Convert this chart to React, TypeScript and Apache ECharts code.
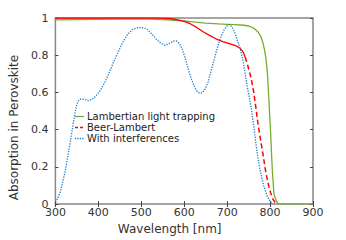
import React, { useEffect, useRef } from "react";
import * as echarts from "echarts";

const xTicks = [300, 400, 500, 600, 700, 800, 900];
const legendNames = ["Lambertian light trapping", "Beer-Lambert", "With interferences"];
const lambertian: [number, number][] = [
  [300, 0.99], [350, 0.992], [400, 0.993], [450, 0.994], [500, 0.995], [550, 0.992],
  [580, 0.988], [600, 0.984], [620, 0.979], [650, 0.972], [680, 0.968], [700, 0.966],
  [720, 0.964], [740, 0.961], [750, 0.957], [758, 0.95], [765, 0.94], [772, 0.925],
  [778, 0.903], [783, 0.87], [787, 0.83], [790, 0.79], [794, 0.7], [797, 0.57],
  [801, 0.4], [805, 0.19], [809, 0.055], [814, 0.02], [819, 0], [900, 0],
];
const beerSolid: [number, number][] = [
  [300, 1], [400, 1], [500, 1], [550, 0.999], [570, 0.996], [585, 0.99], [600, 0.982],
  [615, 0.968], [630, 0.948], [645, 0.925], [660, 0.905], [675, 0.887], [690, 0.873],
  [705, 0.862], [720, 0.851], [730, 0.838], [737, 0.818], [742, 0.79],
];
const beerDashed: [number, number][] = [
  [742, 0.79], [748, 0.745], [756, 0.676], [762, 0.6], [767, 0.518], [772, 0.43],
  [778, 0.343], [784, 0.26], [789, 0.186], [795, 0.115], [801, 0.063], [806, 0.03],
  [811, 0.01], [815, 0],
];
const interference: [number, number][] = [
  [300, 0.01], [305, 0.03], [311, 0.063], [316, 0.11], [322, 0.168], [328, 0.245],
  [334, 0.326], [340, 0.41], [345, 0.483], [349, 0.525], [352, 0.55], [356, 0.562],
  [360, 0.565], [368, 0.562], [378, 0.556], [388, 0.567], [397, 0.588], [405, 0.612],
  [414, 0.65], [423, 0.693], [434, 0.755], [446, 0.816], [457, 0.87], [468, 0.912],
  [480, 0.938], [494, 0.95], [505, 0.947], [513, 0.94], [524, 0.915], [535, 0.886],
  [545, 0.866], [554, 0.854], [562, 0.858], [569, 0.868], [576, 0.876], [582, 0.877],
  [589, 0.862], [595, 0.834], [601, 0.795], [607, 0.746], [614, 0.69], [622, 0.64],
  [628, 0.612], [633, 0.6], [638, 0.596], [642, 0.598], [648, 0.615], [655, 0.65],
  [662, 0.71], [670, 0.78], [678, 0.845], [685, 0.895], [691, 0.928], [696, 0.947],
  [701, 0.96], [706, 0.965], [712, 0.948], [718, 0.921], [725, 0.872], [731, 0.83],
  [737, 0.77], [742, 0.7], [747, 0.628], [752, 0.57], [756, 0.518], [762, 0.42],
  [767, 0.326], [772, 0.245], [778, 0.168], [785, 0.1], [793, 0.046], [800, 0.015],
  [806, 0],
];

const font = "DejaVu Sans";
const GREEN = "#77AC30";
const RED = "#FF0000";
const BLUE = "#1f7fcf";

export default function App() {
  const ref = useRef<HTMLDivElement>(null);
  useEffect(() => {
    if (!ref.current) return;
    const chart = echarts.init(ref.current, undefined, { renderer: "svg" });
    const tickStyle = { show: true, inside: true, length: 3, lineStyle: { color: "#444", width: 1 } };
    const legendStyles = [
      { stroke: GREEN, lineWidth: 1.3 },
      { stroke: RED, lineWidth: 1.5, lineDash: [3, 2] },
      { stroke: BLUE, lineWidth: 1.3, lineDash: [1.2, 1.2] },
    ];
    const legendGraphics: any[] = [];
    legendNames.forEach((n, i) => {
      const y = 116.5 + i * 11;
      legendGraphics.push({
        type: "line", shape: { x1: 75, y1: y, x2: 84, y2: y }, style: legendStyles[i], silent: true,
      });
      legendGraphics.push({
        type: "text", x: 87, y, style: {
          text: n, fontSize: 10, fontFamily: font, fill: "#222", verticalAlign: "middle", align: "left",
        }, silent: true,
      });
    });
    chart.setOption({
      animation: false,
      backgroundColor: "#fff",
      grid: {
        left: 45, right: 33, top: 18, bottom: 31, show: true,
        borderColor: "#888", borderWidth: 1.5, backgroundColor: "transparent",
      },
      graphic: legendGraphics,
      xAxis: [
        {
          type: "value", min: 300, max: 900, interval: 100, position: "bottom",
          name: "Wavelength [nm]", nameLocation: "middle", nameGap: 16,
          nameTextStyle: { fontSize: 12, fontFamily: font, color: "#333", padding: [0, 29, 0, 0] },
          axisLine: { show: false }, axisTick: tickStyle, splitLine: { show: false },
          axisLabel: { fontSize: 11, fontFamily: font, color: "#333", margin: 3,
            formatter: (v: number) => (xTicks.includes(v) ? String(v) : "") },
        },
        {
          type: "value", min: 300, max: 900, interval: 100, position: "top",
          axisLine: { show: false }, axisTick: tickStyle, splitLine: { show: false },
          axisLabel: { show: false },
        },
      ],
      yAxis: [
        {
          type: "value", min: 0, max: 1, interval: 0.2, position: "left",
          name: "Absorption in Perovskite", nameLocation: "middle", nameGap: 26,
          nameTextStyle: { fontSize: 12, fontFamily: font, color: "#333", padding: [0, 33, 0, 0] },
          axisLine: { show: false }, axisTick: tickStyle, splitLine: { show: false },
          axisLabel: { fontSize: 11, fontFamily: font, color: "#333", margin: 7,
            formatter: (v: number) => String(Math.round(v * 10) / 10) },
        },
        {
          type: "value", min: 0, max: 1, interval: 0.2, position: "right",
          axisLine: { show: false }, axisTick: tickStyle, splitLine: { show: false },
          axisLabel: { show: false },
        },
      ],
      series: [
        {
          name: legendNames[0], type: "line", data: lambertian, showSymbol: false, symbol: "none",
          lineStyle: { color: GREEN, width: 1.3 }, itemStyle: { color: GREEN }, z: 3,
        },
        {
          name: legendNames[1] + " (solid)", type: "line", data: beerSolid, showSymbol: false, symbol: "none",
          lineStyle: { color: RED, width: 1.3 }, itemStyle: { color: RED }, z: 4,
        },
        {
          name: legendNames[1], type: "line", data: beerDashed, showSymbol: false, symbol: "none",
          lineStyle: { color: RED, width: 1.5, type: [5, 3] }, itemStyle: { color: RED }, z: 4,
        },
        {
          name: legendNames[2], type: "line", data: interference, showSymbol: false, symbol: "none",
          lineStyle: { color: BLUE, width: 1.3, type: [1.3, 1.3] }, itemStyle: { color: BLUE }, z: 5,
        },
      ],
    });
    return () => chart.dispose();
  }, []);
  return <div ref={ref} style={{ width: 346, height: 240, position: "absolute", left: 0, top: 0 }} />;
}
